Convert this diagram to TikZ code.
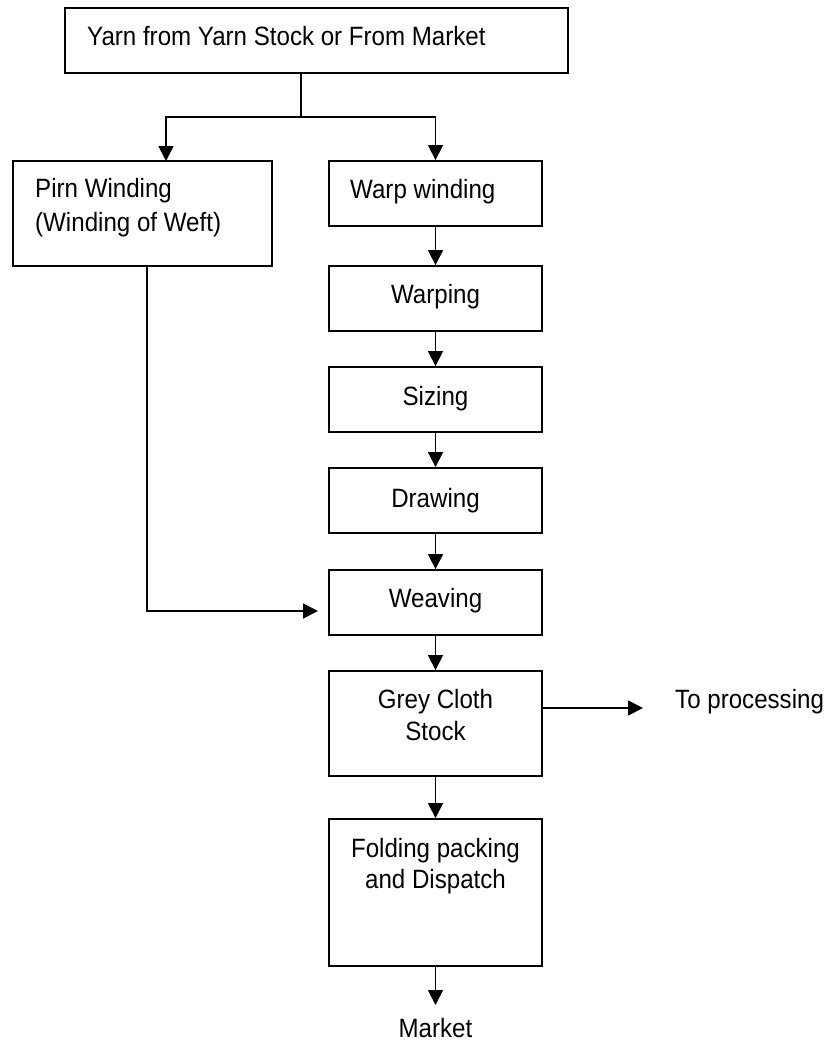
\documentclass[tikz,border=0pt]{standalone}
\usepackage{fontspec}
\setmainfont{Liberation Sans}[FakeStretch=0.91]
\usetikzlibrary{arrows.meta}
\begin{document}
\begin{tikzpicture}[x=1pt,y=-1pt,
  box/.style={draw=black, line width=1.9pt, minimum width=213pt, minimum height=65pt, inner sep=0pt},
  txt/.style={inner sep=0pt, font=\fontsize{26.5pt}{30pt}\selectfont},
  conn/.style={line width=1.7pt},
  arr/.style={line width=1.7pt, -{Triangle[width=15pt,length=15pt]}}]
\useasboundingbox (0,0) rectangle (827,1044);
% boxes
\node[box, line width=2.3pt, minimum width=503pt] (top) at (316.5,40.5) {};
\node[box, minimum width=259pt, minimum height=105pt] (pirn) at (142.5,213.5) {};
\node[box] (warpw) at (435.5,193.5) {};
\node[box] (warping) at (435.5,298.5) {};
\node[box] (sizing) at (435.5,399.5) {};
\node[box] (drawing) at (435.5,500.5) {};
\node[box] (weaving) at (435.5,602.5) {};
\node[box, minimum height=105pt] (grey) at (435.5,723.5) {};
\node[box, minimum height=147pt] (folding) at (435.5,892.5) {};
% texts
\node[txt, anchor=base west] (topT) at (87,45) {Yarn from Yarn Stock or From Market};
\node[txt, anchor=base west] (pirnT1) at (35,197) {Pirn Winding};
\node[txt, anchor=base west] (pirnT2) at (35,231) {(Winding of Weft)};
\node[txt, anchor=base west] (warpwT) at (350,198) {Warp winding};
\node[txt, anchor=base] (warpingT) at (435.5,303) {Warping};
\node[txt, anchor=base] (sizingT) at (435.5,405) {Sizing};
\node[txt, anchor=base] (drawingT) at (435.5,507) {Drawing};
\node[txt, anchor=base] (weavingT) at (435.5,607) {Weaving};
\node[txt, anchor=base] (greyT1) at (435.5,708) {Grey Cloth};
\node[txt, anchor=base] (greyT2) at (435.5,740) {Stock};
\node[txt, anchor=base] (foldT1) at (435.5,857) {Folding packing};
\node[txt, anchor=base] (foldT2) at (435.5,888) {and Dispatch};
\node[txt, anchor=base] (market) at (435.5,1037) {Market};
\node[txt, anchor=base west] (proc) at (675,708) {To processing};
% coordinates
\coordinate (split) at (301,117);
\coordinate (pirnIn) at (166,161);
\coordinate (pirnOut) at (147,266);
\coordinate (wIn) at (318,611);
\coordinate (toProc) at (643,708);
\coordinate (toMarket) at (435.5,1005);
% connectors
\draw[conn, line width=2.1pt] (top.south -| split) -- (split);
\draw[arr] (split) -| (pirnIn);
\draw[arr] (split) -| (warpw.north);
\draw[arr] (warpw) -- (warping);
\draw[arr] (warping) -- (sizing);
\draw[arr] (sizing) -- (drawing);
\draw[arr] (drawing) -- (weaving);
\draw[arr] (pirnOut) |- (wIn);
\draw[arr] (weaving) -- (grey);
\draw[arr] (grey.east |- toProc) -- (toProc);
\draw[arr] (grey) -- (folding);
\draw[arr] (folding) -- (toMarket);
\end{tikzpicture}
\end{document}
